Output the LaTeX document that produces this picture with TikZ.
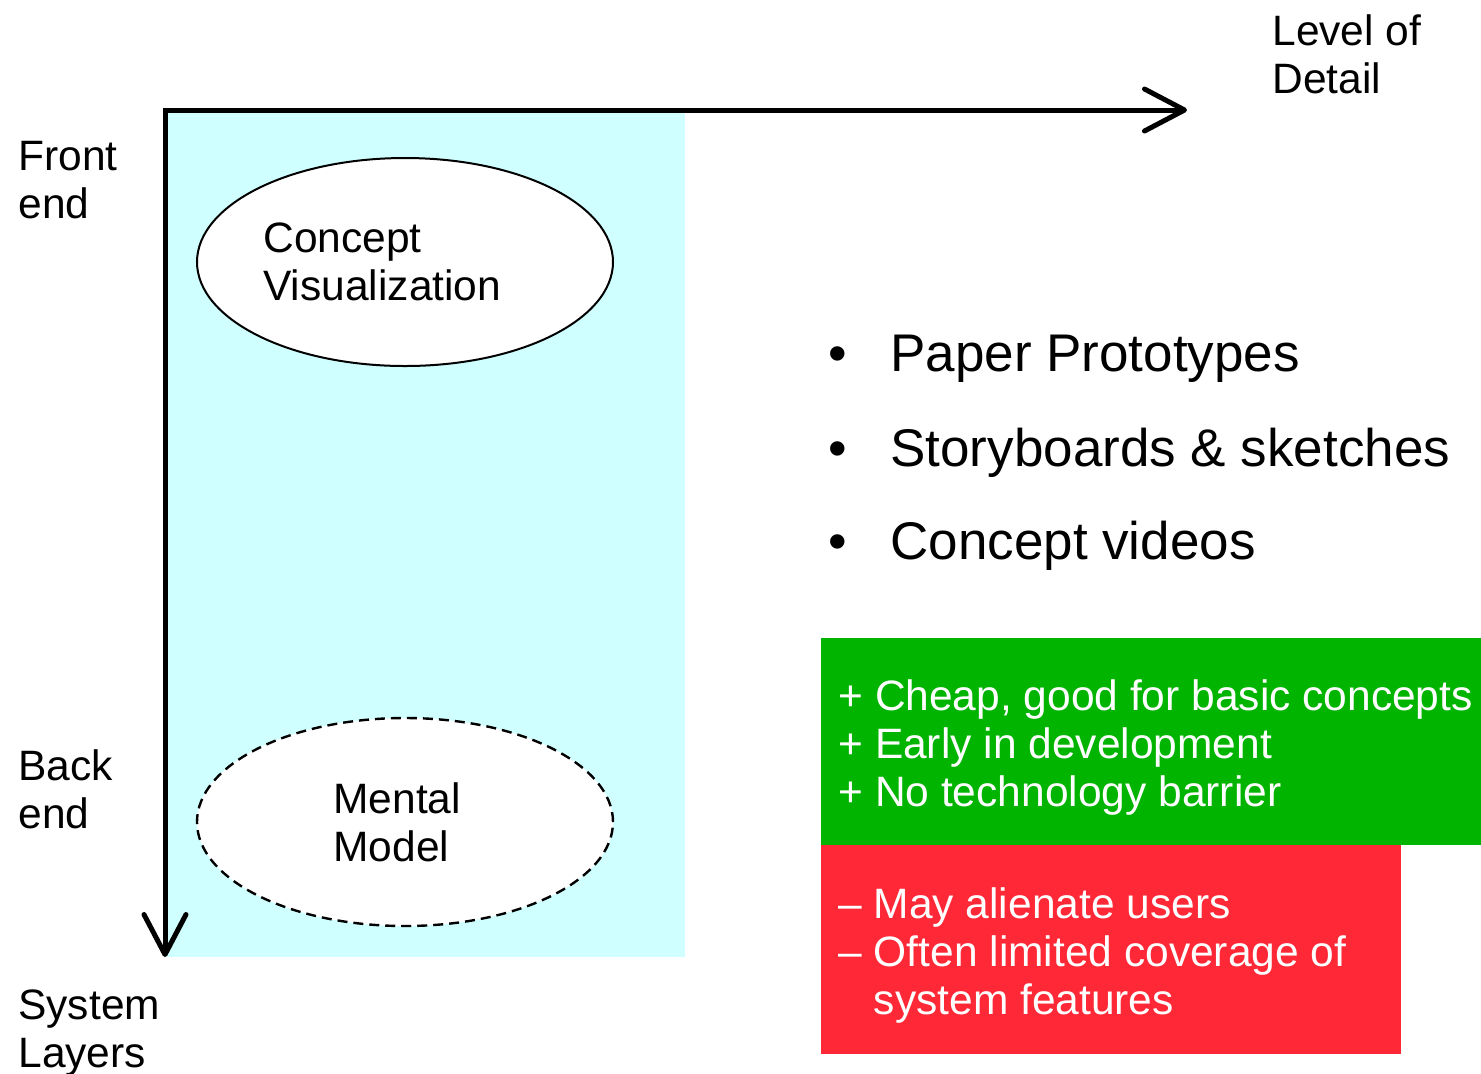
\documentclass[tikz,border=0pt]{standalone}
\usepackage{fontspec}
\setmainfont{Liberation Sans}
\usepackage{tikz}
\usetikzlibrary{shapes,arrows,positioning,calc,arrows.meta}
\definecolor{skyfill}{RGB}{208,255,255}
\definecolor{plusgreen}{RGB}{0,180,0}
\definecolor{minusred}{RGB}{255,40,54}

\begin{document}
\begin{tikzpicture}[x=0.5pt, y=-0.5pt,
    axis/.style={line width=2.5pt, {Straight Barb[round,length=20pt,width=21pt]}-{Straight Barb[round,length=20pt,width=21pt]}},
    lbl/.style={anchor=north west, align=left, inner sep=0pt, font=\fontsize{21.25}{24}\selectfont},
    big/.style={anchor=north west, inner sep=0pt, font=\fontsize{26.5}{30}\selectfont},
    blob/.style={ellipse, draw=black, line width=1pt, fill=white, minimum width=208pt, minimum height=104pt, inner sep=0pt},
    panel/.style={rectangle, inner sep=0pt, anchor=north west}
]
    \useasboundingbox (0,0) rectangle (1481,1073);

    % Layer band
    \node[panel, fill=skyfill, minimum width=260pt, minimum height=423.5pt] (band) at (165,110) {};

    % Axes
    \coordinate (o) at (165,110);
    \coordinate (xend) at (1187,110);
    \coordinate (yend) at (165,957);
    \draw[axis] (xend) -- (o) -- (yend);

    % Axis labels
    \node[lbl] (lod) at (1272,14) {Level of\\Detail};
    \node[lbl] (front) at (18,141) {Front\\end};
    \node[lbl] (back) at (18,749) {Back\\end};
    \node[lbl] (layers) at (18,989) {System\\Layers};

    % Ellipses
    \node[blob] (cv) at (405,262) {};
    \node[lbl] (cvtext) at (263,222) {Concept\\Visualization};
    \node[blob, dashed, line width=1.2pt, dash pattern=on 5pt off 3pt] (mm) at (405,822) {};
    \node[lbl] (mmtext) at (333,782) {Mental\\Model};

    % Bullets
    \node[big] (b1) at (828,335) {\makebox[31pt][l]{•}Paper Prototypes};
    \node[big] (b2) at (828,428) {\makebox[31pt][l]{•}Storyboards \& sketches};
    \node[big] (b3) at (828,521) {\makebox[31pt][l]{•}Concept videos};

    % Pros and cons
    \node[panel, fill=plusgreen, minimum width=330pt, minimum height=103.5pt] (pros) at (821,638) {};
    \node[panel, fill=minusred, minimum width=290pt, minimum height=104.5pt] (cons) at (821,845) {};
    \node[lbl, text=white] (prostext) at (838,679) {+ Cheap, good for basic concepts\\+ Early in development\\+ No technology barrier};
    \node[lbl, text=white] (constext) at (838,887) {– May alienate users\\– Often limited coverage of\\\hphantom{– }system features};
\end{tikzpicture}
\end{document}
